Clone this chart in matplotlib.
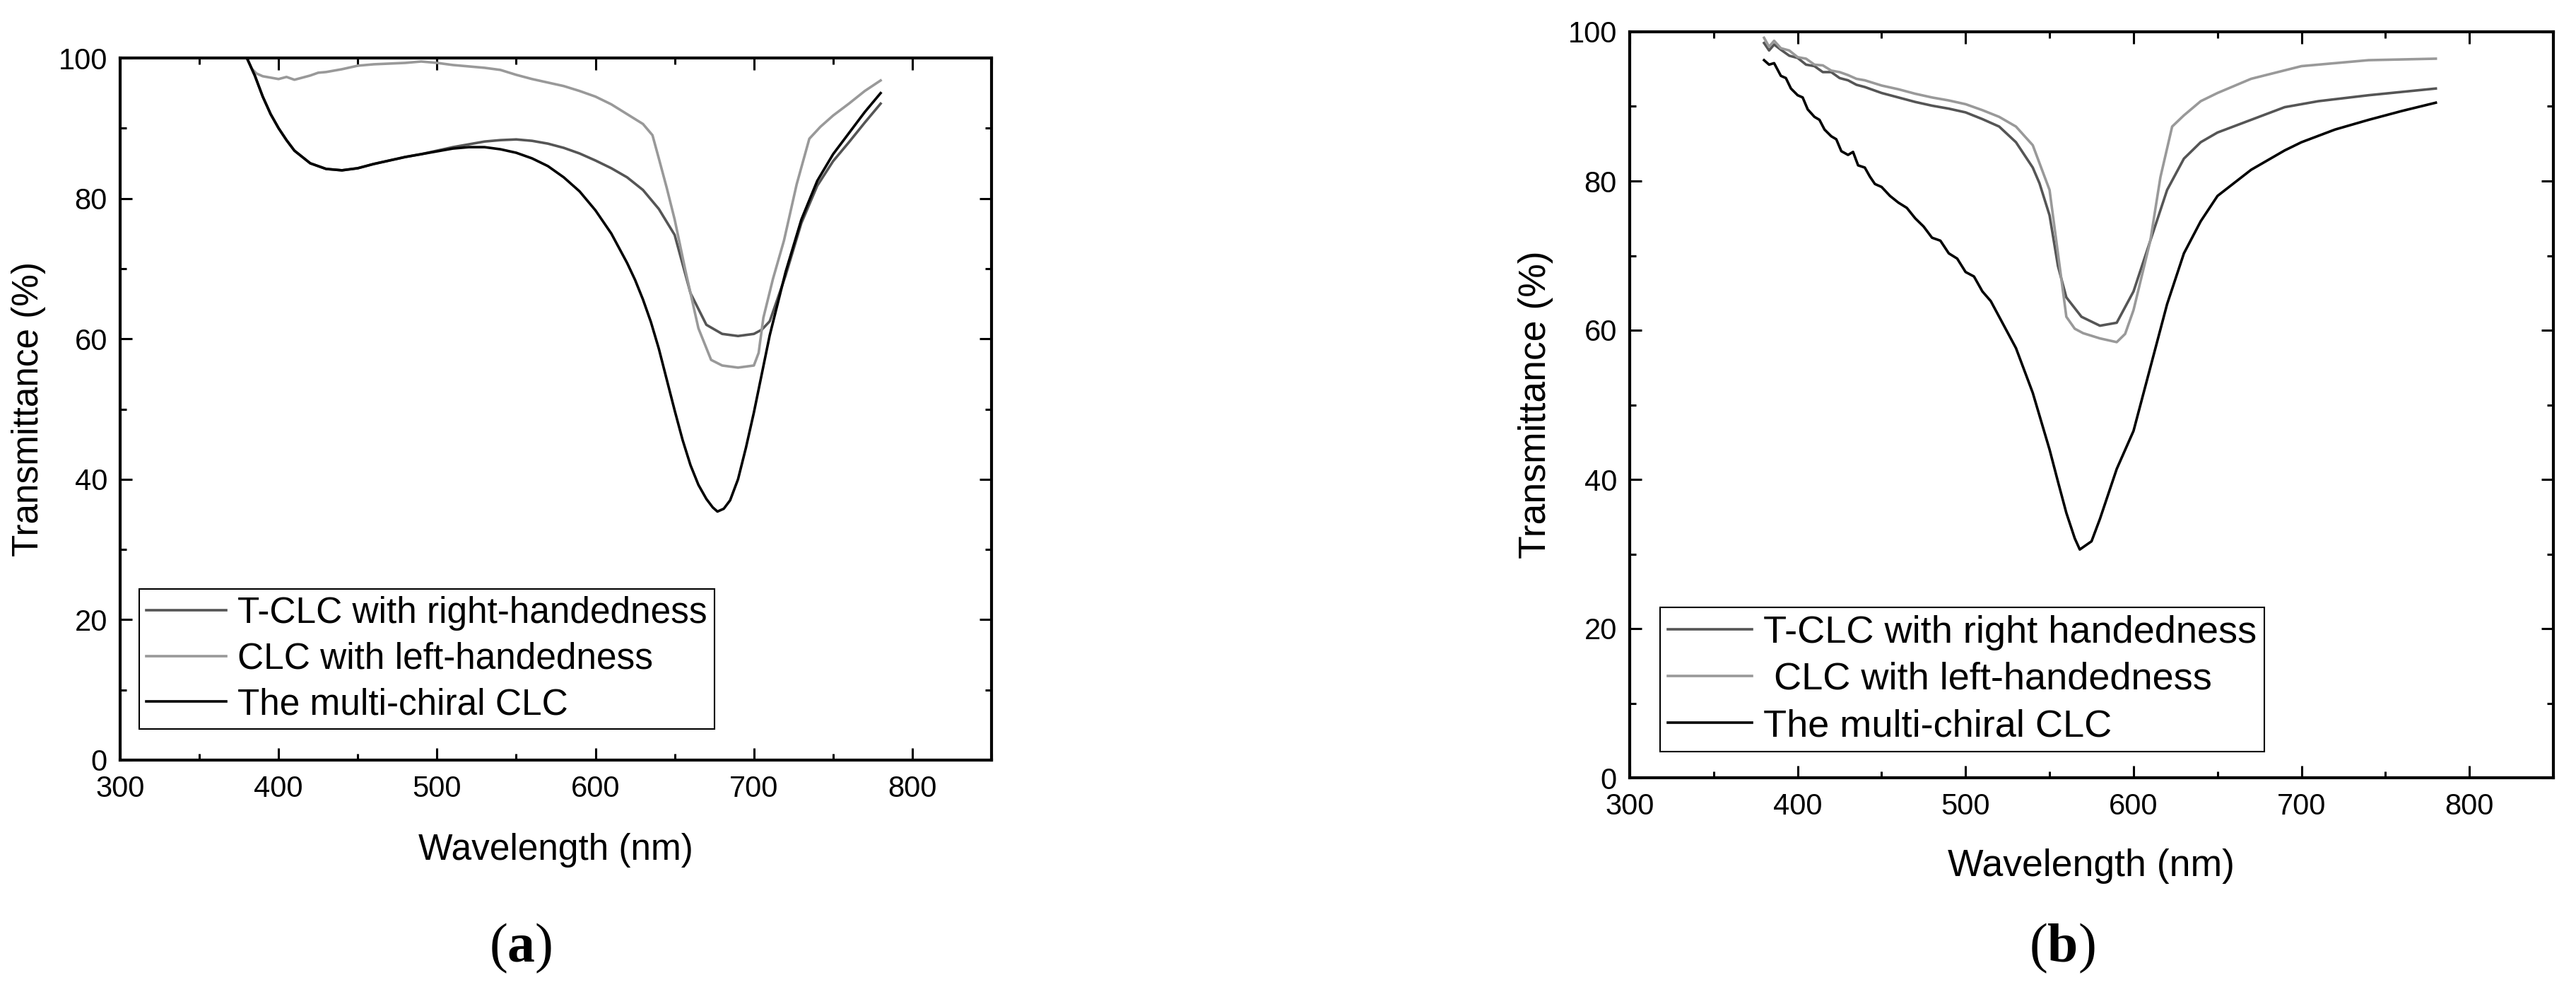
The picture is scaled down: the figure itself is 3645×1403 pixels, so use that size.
import matplotlib
matplotlib.use("Agg")
import matplotlib.pyplot as plt
from matplotlib.ticker import MultipleLocator

plt.rcParams['font.family'] = ['Liberation Sans', 'DejaVu Sans']
plt.rcParams['mathtext.fontset'] = 'custom'
plt.rcParams['mathtext.rm'] = 'Liberation Serif'
plt.rcParams['mathtext.bf'] = 'Liberation Serif:bold'

# ---------------- data: panel (a) ----------------
a_right_wl = [380, 385, 390, 395, 400, 405, 410, 420, 430, 440, 450, 460, 470, 480, 490, 500,
              510, 520, 530, 540, 550, 560, 570, 580, 590, 600, 610, 620, 630, 640, 650, 660,
              670, 680, 690, 700, 705, 710, 720, 730, 740, 750, 760, 770, 780]
a_right_T = [100, 97.5, 94.5, 92.0, 90.0, 88.3, 86.8, 85.0, 84.2, 84.0, 84.3, 84.9, 85.4, 85.9, 86.3, 86.8,
             87.3, 87.7, 88.1, 88.3, 88.4, 88.2, 87.8, 87.2, 86.4, 85.4, 84.3, 83.0, 81.2, 78.5, 74.8, 66.5,
             62.0, 60.7, 60.4, 60.7, 61.3, 62.5, 69.0, 76.5, 81.8, 85.3, 88.0, 90.8, 93.5]

a_left_wl = [380, 383, 386, 390, 395, 400, 405, 410, 415, 420, 425, 430, 440, 450, 460, 470, 480, 490,
             500, 510, 520, 530, 540, 550, 560, 570, 580, 590, 600, 610, 620, 630, 636, 640, 645, 650,
             657, 665, 673, 680, 690, 700, 703, 706, 712, 719, 727, 735, 742, 750, 760, 770, 780]
a_left_T = [100, 98.5, 97.8, 97.4, 97.2, 97.0, 97.3, 96.9, 97.2, 97.5, 97.9, 98.0, 98.4, 98.9, 99.1, 99.2, 99.3, 99.5,
            99.3, 99.0, 98.8, 98.6, 98.3, 97.6, 97.0, 96.5, 96.0, 95.3, 94.5, 93.4, 92.0, 90.6, 89.0, 85.7, 81.5, 77.0,
            69.5, 61.5, 57.0, 56.2, 55.9, 56.2, 58.0, 63.0, 68.5, 74.0, 82.0, 88.5, 90.2, 91.8, 93.5, 95.3, 96.8]

a_multi_wl = [380, 385, 390, 395, 400, 405, 410, 420, 430, 440, 450, 460, 470, 480, 490, 500, 510, 520,
              530, 540, 550, 560, 570, 580, 590, 600, 610, 620, 625, 630, 635, 640, 645, 650, 655, 660,
              665, 670, 674, 677, 681, 685, 690, 695, 700, 705, 710, 720, 730, 740, 750, 760, 770, 780]
a_multi_T = [100, 97.5, 94.5, 92.0, 90.0, 88.3, 86.8, 85.0, 84.2, 84.0, 84.3, 84.9, 85.4, 85.9, 86.3, 86.7, 87.1, 87.3,
             87.3, 87.0, 86.5, 85.7, 84.6, 83.0, 81.0, 78.3, 75.0, 70.8, 68.4, 65.6, 62.4, 58.6, 54.2, 49.8, 45.6, 42.0,
             39.2, 37.2, 36.0, 35.4, 35.8, 37.0, 40.0, 44.5, 49.5, 55.0, 60.5, 69.5, 77.0, 82.5, 86.3, 89.3, 92.3, 95.0]

# ---------------- data: panel (b) ----------------
b_right_wl = [380, 383, 386, 390, 395, 400, 405, 410, 415, 420, 425, 430, 435, 440, 450, 460, 470, 480,
              490, 500, 510, 520, 530, 540, 544, 550, 555, 560, 569, 580, 590, 600, 610, 620, 630, 640,
              650, 670, 690, 710, 740, 780]
b_right_T = [98.5, 97.5, 98.3, 97.6, 96.8, 96.5, 95.6, 95.4, 94.6, 94.6, 93.8, 93.5, 92.9, 92.6, 91.8, 91.2, 90.6, 90.1,
             89.7, 89.2, 88.3, 87.3, 85.2, 81.8, 79.7, 75.4, 68.6, 64.4, 61.8, 60.6, 61.0, 65.2, 72.0, 78.8, 83.0, 85.2,
             86.5, 88.2, 89.9, 90.7, 91.5, 92.4]

b_left_wl = [380, 383, 386, 390, 395, 400, 405, 410, 415, 420, 425, 430, 435, 440, 450, 460, 470, 480,
             490, 500, 510, 520, 530, 540, 550, 555, 560, 565, 570, 580, 590, 595, 600, 610, 616, 623,
             630, 640, 650, 670, 700, 740, 780]
b_left_T = [99.2, 98.0, 98.8, 97.8, 97.5, 96.6, 96.4, 95.6, 95.5, 94.8, 94.6, 94.2, 93.7, 93.5, 92.8, 92.3, 91.7, 91.2,
            90.8, 90.3, 89.5, 88.6, 87.3, 84.8, 78.8, 70.3, 61.8, 60.2, 59.6, 58.9, 58.4, 59.5, 62.7, 72.0, 80.5, 87.3,
            88.8, 90.7, 91.8, 93.7, 95.4, 96.2, 96.4]

b_multi_wl = [380, 383, 386, 390, 393, 396, 400, 403, 406, 410, 413, 416, 420, 423, 426, 430, 433, 436, 440,
              443, 446, 450, 455, 460, 465, 470, 475, 480, 485, 490, 495, 500, 505, 510, 515, 520, 530,
              540, 550, 555, 560, 565, 568, 575, 580, 590, 600, 610, 620, 630, 640, 650, 670, 690, 700,
              720, 740, 760, 780]
b_multi_T = [96.2, 95.6, 95.8, 94.1, 93.8, 92.4, 91.5, 91.2, 89.6, 88.6, 88.2, 86.9, 86.0, 85.6, 84.0, 83.5, 83.9, 82.1,
             81.8, 80.6, 79.6, 79.2, 78.0, 77.1, 76.4, 75.0, 73.9, 72.4, 72.0, 70.3, 69.6, 67.8, 67.2, 65.2, 63.9,
             61.8, 57.6, 51.6, 44.0, 39.7, 35.5, 32.1, 30.6, 31.7, 34.7, 41.4, 46.5, 55.0, 63.5, 70.3, 74.6, 78.0,
             81.5, 84.1, 85.2, 86.9, 88.2, 89.4, 90.5]

labels_a = ["T-CLC with right-handedness", "CLC with left-handedness", "The multi-chiral CLC"]
labels_b = ["T-CLC with right handedness", " CLC with left-handedness", "The multi-chiral CLC"]
captions = ["a", "b"]

x_ticks = [300, 400, 500, 600, 700, 800]
y_ticks = [0, 20, 40, 60, 80, 100]

c_right = '#555555'
c_left = '#999999'
c_multi = '#000000'

W, H = 3645, 1403
fig = plt.figure(figsize=(W / 100, H / 100), dpi=100)

ax_a = fig.add_axes([170 / W, 1 - 1075 / H, 1233 / W, 993 / H])
ax_b = fig.add_axes([2306 / W, 1 - 1100 / H, 1307 / W, 1055 / H])


def style(ax, labels, series, leg_box, legsize, labsize):
    for (wl, T, c, lw), lab in zip(series, labels):
        ax.plot(wl, T, color=c, lw=lw, label=lab)
    ax.set_xlim(300, 850)
    ax.set_ylim(0, 100)
    ax.set_xticks(x_ticks)
    ax.set_yticks(y_ticks)
    ax.xaxis.set_minor_locator(MultipleLocator(50))
    ax.yaxis.set_minor_locator(MultipleLocator(10))
    ax.tick_params(which='both', direction='in', top=True, right=True, width=2.2)
    ax.tick_params(which='major', length=12, labelsize=30)
    ax.tick_params(which='minor', length=6.5)
    ax.tick_params(axis='x', which='major', pad=15)
    ax.tick_params(axis='y', which='major', pad=13)
    for s in ax.spines.values():
        s.set_linewidth(3)
    ax.set_xlabel("Wavelength (nm)", fontsize=labsize)
    ax.set_ylabel("Transmittance (%)", fontsize=labsize)
    leg = ax.legend(loc='lower left', bbox_to_anchor=leg_box, borderaxespad=0,
                    fontsize=legsize, handlelength=2.2, handletextpad=0.3,
                    borderpad=0.2, labelspacing=0.3, fancybox=False, framealpha=1,
                    edgecolor='black')
    leg.get_frame().set_linewidth(1.5)


style(ax_a, labels_a,
      [(a_right_wl, a_right_T, c_right, 2.6),
       (a_left_wl, a_left_T, c_left, 2.6),
       (a_multi_wl, a_multi_T, c_multi, 2.6)],
      (0.022, 0.044), 37, 37)
ax_a.xaxis.set_label_coords(0.5, -0.104)
ax_a.yaxis.set_label_coords(-0.085, 0.5)

style(ax_b, labels_b,
      [(b_right_wl, b_right_T, c_right, 2.6),
       (b_left_wl, b_left_T, c_left, 2.6),
       (b_multi_wl, b_multi_T, c_multi, 2.6)],
      (0.033, 0.035), 39, 38.5)
ax_b.xaxis.set_label_coords(0.5, -0.095)
ax_b.yaxis.set_label_coords(-0.083, 0.5)

fig.text(737 / W, 1 - 1341 / H, r"($\mathbf{%s}$)" % captions[0], fontsize=56,
         family='Liberation Serif', ha='center', va='center')
fig.text(2918 / W, 1 - 1341 / H, r"($\mathbf{%s}$)" % captions[1], fontsize=56,
         family='Liberation Serif', ha='center', va='center')

fig.savefig("out.png", dpi=100, facecolor='white')
